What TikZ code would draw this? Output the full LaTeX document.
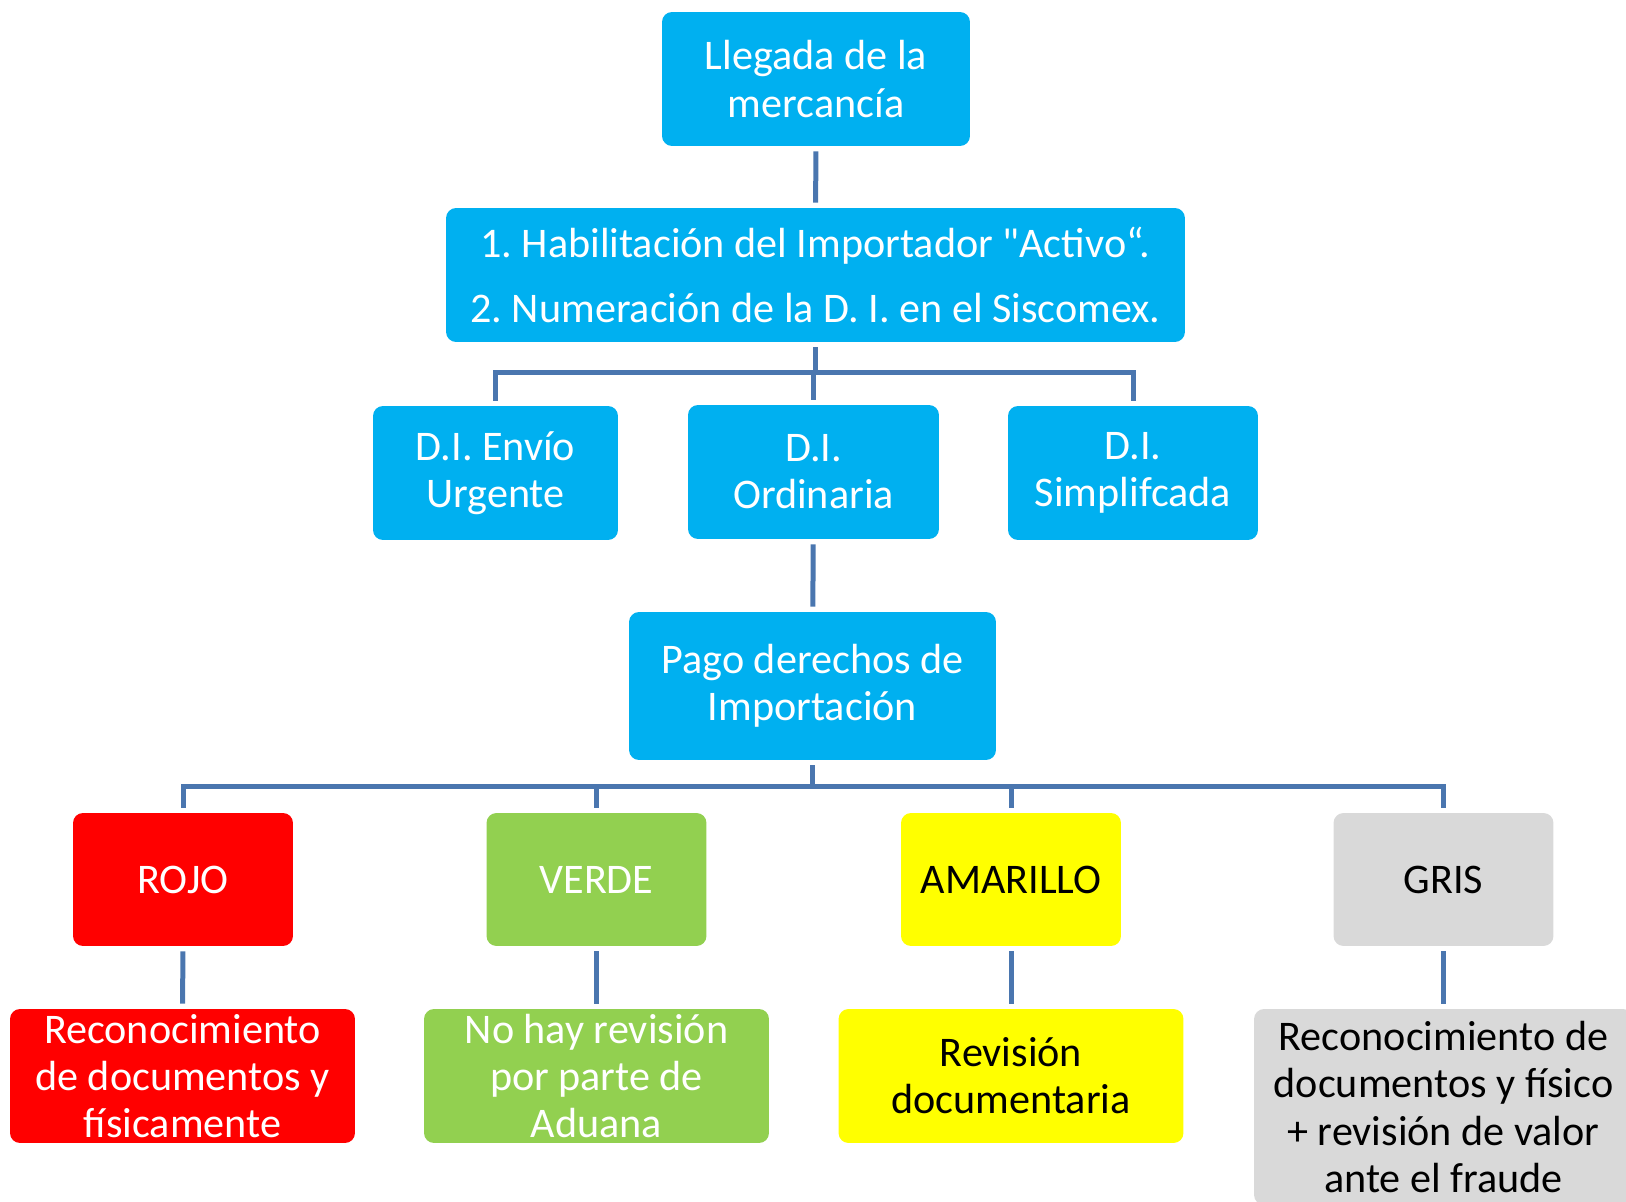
\documentclass[tikz,border=0pt]{standalone}
\usepackage{fontspec}
\setmainfont{Carlito}
\newfontfamily\plainquote{Carlito}
\usetikzlibrary{positioning}

\definecolor{boxblue}{HTML}{00B0F0}
\definecolor{boxred}{HTML}{FF0000}
\definecolor{boxgreen}{HTML}{92D050}
\definecolor{boxyellow}{HTML}{FFFF00}
\definecolor{boxgray}{HTML}{D9D9D9}
\definecolor{linkblue}{RGB}{74,118,175}

\begin{document}
\frenchspacing
\begin{tikzpicture}[x=0.02cm,y=-0.02cm,
    every node/.style={font=\fontsize{24}{26.8}\selectfont,align=center,inner sep=0pt},
    box/.style={rounded corners=0.2cm,minimum height=2.68cm},
    bluebox/.style={box,fill=boxblue,text=white},
    link/.style={linkblue,line width=0.1cm,shorten <=0.1cm,shorten >=0.1cm}]
    \useasboundingbox (0,0) rectangle (1626,1202);

    % top of the tree
    \node[bluebox,minimum width=6.16cm] (llegada) at (816,79) {Llegada de la\\mercancía};
    \node[bluebox,minimum width=14.78cm] (habil) at (815.5,275)
        {1. Habilitación del Importador {\plainquote"}Activo“.\\[0.37cm]2. Numeración de la D. I. en el Siscomex.};

    % tipos de declaracion
    \node[bluebox,minimum width=4.9cm] (envio) at (495.5,473) {D.I. Envío\\Urgente};
    \node[bluebox,minimum width=5.02cm] (ordin) at (813.5,472) {D.I.\\Ordinaria};
    \node[bluebox,minimum width=5.0cm] (simpl) at (1133,473) {D.I.\\Simplifcada};

    \node[bluebox,minimum width=7.34cm,minimum height=2.96cm] (pago) at (812.5,686)
        {Pago derechos de\\Importación};

    % semaforo
    \node[box,fill=boxred,text=white,minimum width=4.4cm,minimum height=2.66cm] (rojo) at (183,879.5) {ROJO};
    \node[box,fill=boxgreen,text=white,minimum width=4.4cm,minimum height=2.66cm] (verde) at (596.5,879.5) {VERDE};
    \node[box,fill=boxyellow,text=black,minimum width=4.4cm,minimum height=2.66cm] (amar) at (1011,879.5) {AMARILLO};
    \node[box,fill=boxgray,text=black,minimum width=4.4cm,minimum height=2.66cm] (gris) at (1443.5,879.5) {GRIS};

    \node[box,fill=boxred,text=white,minimum width=6.9cm] (rojoD) at (182.5,1076)
        {Reconocimiento\\de documentos y\\físicamente};
    \node[box,fill=boxgreen,text=white,minimum width=6.9cm] (verdeD) at (596.5,1076)
        {No hay revisión\\por parte de\\Aduana};
    \node[box,fill=boxyellow,text=black,minimum width=6.9cm] (amarD) at (1011,1076)
        {Revisión\\documentaria};
    \node[box,fill=boxgray,text=black,minimum width=7.58cm,minimum height=3.92cm] (grisD) at (1443.5,1107)
        {Reconocimiento de\\documentos y físico\\+ revisión de valor\\ante el fraude};

    %connectors:
    \coordinate (barA) at (815.5,373);
    \coordinate (barB) at (812.5,786);

    \draw[link] (llegada) -- (habil);
    \draw[link,shorten >=0pt] (habil.south) -- (barA);
    \draw[link,shorten >=0pt] (envio.north) |- (barA);
    \draw[link,shorten >=0pt] (ordin.north) -- (ordin.north |- barA);
    \draw[link,shorten >=0pt] (simpl.north) |- (barA);
    \draw[link] (ordin) -- (pago);

    \draw[link,shorten >=0pt] (pago.south) -- (barB);
    \draw[link,shorten >=0pt] (rojo.north) |- (barB);
    \draw[link,shorten >=0pt] (verde.north) -- (verde.north |- barB);
    \draw[link,shorten >=0pt] (amar.north) -- (amar.north |- barB);
    \draw[link,shorten >=0pt] (gris.north) |- (barB);

    \draw[link] (rojo) -- (rojoD);
    \draw[link] (verde) -- (verdeD);
    \draw[link] (amar) -- (amarD);
    \draw[link] (gris) -- (grisD);

\end{tikzpicture}
\end{document}
